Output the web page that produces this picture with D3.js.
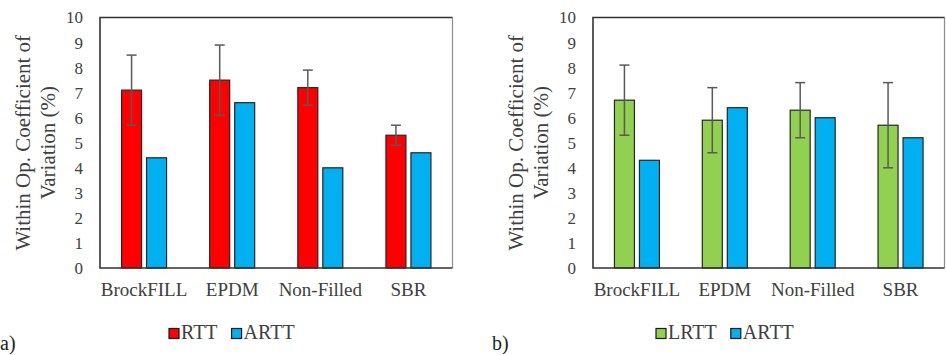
<!DOCTYPE html>
<html>
<head>
<meta charset="utf-8">
<script src="https://cdn.jsdelivr.net/npm/d3@7"></script>
</head>
<body style="margin:0">
<svg id="chart" width="946" height="355" font-family="Liberation Serif, Tinos, Times New Roman, serif"></svg>
<script>
const categories = [ 'BrockFILL', 'EPDM', 'Non-Filled', 'SBR' ];
const yTicks = [ 0, 1, 2, 3, 4, 5, 6, 7, 8, 9, 10 ];

// panel a)
const rttValues = [ 7.1, 7.5, 7.2, 5.3 ];
const rttErrors = [ 1.4, 1.4, 0.7, 0.4 ];
const arttValuesA = [ 4.4, 6.6, 4.0, 4.6 ];

// panel b)
const lrttValues = [ 6.7, 5.9, 6.3, 5.7 ];
const lrttErrors = [ 1.4, 1.3, 1.1, 1.7 ];
const arttValuesB = [ 4.3, 6.4, 6.0, 5.2 ];

const fontFamily = 'Liberation Serif, Tinos, Times New Roman, serif';
const textColor = '#404040';
const svg = d3.select( '#chart' );

function label( sel, size ) {
   return sel
      .attr( 'font-family', fontFamily )
      .style( 'font-family', fontFamily )
      .style( 'font-size', size + 'px' )
      .attr( 'fill', textColor );
}

function renderPanel( opts ) {
   const { left, right, top, bottom, series, titleX, legendX } = opts;
   const g = svg.append( 'g' );

   const y = d3.scaleLinear().domain( [ 0, 10 ] ).range( [ bottom, top ] );
   const x = d3.scaleBand().domain( categories ).range( [ left, right ] ).padding( 0 );
   const bw = x.bandwidth();
   const inner = d3.scaleBand()
      .domain( series.map( s => s.name ) )
      .range( [ bw / 2 - 22.5, bw / 2 + 22.5 ] )
      .paddingInner( 0.2 );

   // y axis labels
   const yAxis = g.append( 'g' )
      .attr( 'transform', `translate(${left},0)` )
      .call( d3.axisLeft( y ).tickValues( yTicks ).tickSize( 0 ).tickPadding( 17 ) )
      .attr( 'font-family', fontFamily );
   yAxis.select( '.domain' ).remove();
   label( yAxis.selectAll( 'text' ), 17 );

   // category labels
   const xAxis = g.append( 'g' )
      .attr( 'transform', `translate(0,${bottom})` )
      .call( d3.axisBottom( x ).tickSize( 0 ).tickPadding( 15 ) )
      .attr( 'font-family', fontFamily );
   xAxis.select( '.domain' ).remove();
   label( xAxis.selectAll( 'text' ), 19 );

   // bars
   series.forEach( s => {
      g.append( 'g' ).selectAll( 'rect' )
         .data( s.values )
         .join( 'rect' )
         .attr( 'x', ( d, i ) => x( categories[ i ] ) + inner( s.name ) )
         .attr( 'y', d => y( d ) )
         .attr( 'width', inner.bandwidth() )
         .attr( 'height', d => bottom - y( d ) )
         .attr( 'fill', s.color )
         .attr( 'stroke', '#262626' )
         .attr( 'stroke-width', 1.2 );

      if( s.errors ) {
         const eb = g.append( 'g' )
            .attr( 'stroke', '#595959' )
            .attr( 'stroke-width', 1.5 );
         s.values.forEach( ( v, i ) => {
            const cx = x( categories[ i ] ) + inner( s.name ) + inner.bandwidth() / 2;
            const lo = y( v - s.errors[ i ] );
            const hi = y( v + s.errors[ i ] );
            eb.append( 'line' ).attr( 'x1', cx ).attr( 'x2', cx ).attr( 'y1', lo ).attr( 'y2', hi );
            eb.append( 'line' ).attr( 'x1', cx - 5 ).attr( 'x2', cx + 5 ).attr( 'y1', lo ).attr( 'y2', lo );
            eb.append( 'line' ).attr( 'x1', cx - 5 ).attr( 'x2', cx + 5 ).attr( 'y1', hi ).attr( 'y2', hi );
         } );
      }
   } );

   // plot frame
   g.append( 'line' ).attr( 'x1', right ).attr( 'x2', right ).attr( 'y1', top ).attr( 'y2', bottom )
      .attr( 'stroke', '#8c8c8c' ).attr( 'stroke-width', 1.2 );
   g.append( 'path' )
      .attr( 'd', `M${right},${top}H${left}V${bottom}H${right}` )
      .attr( 'fill', 'none' )
      .attr( 'stroke', '#333' )
      .attr( 'stroke-width', 1.6 );

   // y axis title, two lines
   const midY = ( top + bottom ) / 2;
   [ 'Within Op. Coefficient of', 'Variation (%)' ].forEach( ( t, i ) => {
      label( g.append( 'text' ), 21 )
         .attr( 'transform', `translate(${titleX + i * 25},${midY}) rotate(-90)` )
         .attr( 'text-anchor', 'middle' )
         .attr( 'dy', '0.35em' )
         .text( t );
   } );

   // legend
   let lx = legendX;
   series.forEach( s => {
      g.append( 'rect' )
         .attr( 'x', lx ).attr( 'y', 328.5 )
         .attr( 'width', 10 ).attr( 'height', 10 )
         .attr( 'fill', s.color )
         .attr( 'stroke', '#1a1a1a' )
         .attr( 'stroke-width', 1.2 );
      const t = label( g.append( 'text' ), 20 )
         .attr( 'x', lx + 12 ).attr( 'y', 339 )
         .text( s.name );
      lx += 12 + t.node().getComputedTextLength() + 14;
   } );

   // panel tag
   label( g.append( 'text' ), 20 )
      .attr( 'x', opts.tagX ).attr( 'y', 350 )
      .attr( 'fill', '#222' )
      .text( opts.tag );
}

renderPanel( {
   left: 100, right: 452.5, top: 17.5, bottom: 268,
   titleX: 23, legendX: 169, tagX: 0, tag: 'a)',
   series: [
      { name: 'RTT', values: rttValues, errors: rttErrors, color: '#FF0000' },
      { name: 'ARTT', values: arttValuesA, color: '#00B0F0' }
   ]
} );

renderPanel( {
   left: 593, right: 944.5, top: 17.5, bottom: 268,
   titleX: 516, legendX: 656, tagX: 492, tag: 'b)',
   series: [
      { name: 'LRTT', values: lrttValues, errors: lrttErrors, color: '#92D050' },
      { name: 'ARTT', values: arttValuesB, color: '#00B0F0' }
   ]
} );
</script>
</body>
</html>
